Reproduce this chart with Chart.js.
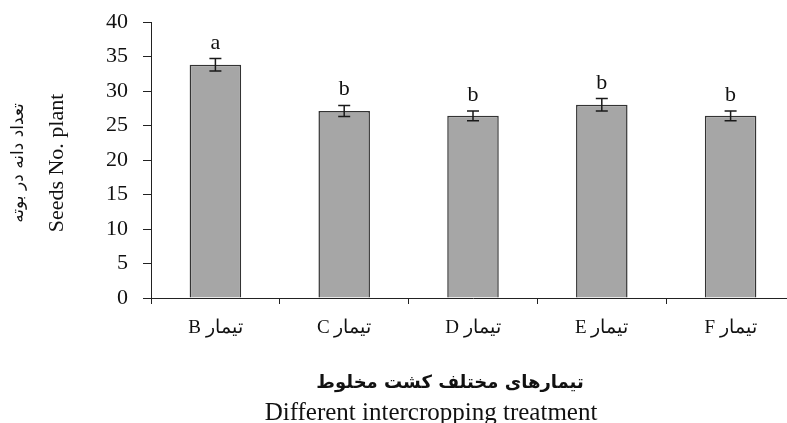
<!DOCTYPE html>
<html>
<head>
<meta charset="utf-8">
<script src="https://cdn.jsdelivr.net/npm/chart.js@4.4.1/dist/chart.umd.min.js"></script>
<style>
  html, body { margin: 0; padding: 0; background: #fff; overflow: hidden; }
  #wrap { position: relative; width: 800px; height: 423px; }
</style>
</head>
<body>
<div id="wrap"><canvas id="seedsChart"></canvas></div>
<script>
// datos
var treatments = ['B تیمار', 'C تیمار', 'D تیمار', 'E تیمار', 'F تیمار'];
var seedsPerPlant = [33.8, 27.1, 26.4, 28.0, 26.4];
var errorValues = [0.9, 0.8, 0.7, 0.9, 0.7];
var groupLetters = ['a', 'b', 'b', 'b', 'b'];
var yTicks = [0, 5, 10, 15, 20, 25, 30, 35, 40];

var serif = "'Liberation Serif', 'DejaVu Serif', serif";
var persian = "'DejaVu Sans', 'Noto Sans', sans-serif";

// barras de error + letras de significancia
var errorBarsPlugin = {
    id: 'errorBars',
    afterDatasetsDraw: function(chart) {
        var ctx = chart.ctx;
        var y = chart.scales.y;
        var meta = chart.getDatasetMeta(0);
        ctx.save();
        ctx.strokeStyle = '#1a1a1a';
        ctx.lineWidth = 1.5;
        meta.data.forEach(function(bar, i) {
            var top = y.getPixelForValue(seedsPerPlant[i] + errorValues[i]);
            var bottom = y.getPixelForValue(seedsPerPlant[i] - errorValues[i]);
            ctx.beginPath();
            ctx.moveTo(bar.x, top);
            ctx.lineTo(bar.x, bottom);
            ctx.moveTo(bar.x - 6, top);
            ctx.lineTo(bar.x + 6, top);
            ctx.moveTo(bar.x - 6, bottom);
            ctx.lineTo(bar.x + 6, bottom);
            ctx.stroke();
            ctx.fillStyle = '#111';
            ctx.font = '22px ' + serif;
            ctx.textAlign = 'center';
            ctx.textBaseline = 'alphabetic';
            ctx.fillText(groupLetters[i], bar.x, top - 10);
        });
        ctx.restore();
    }
};

// titulos de los ejes (dos lineas, persa + ingles)
var axisTitlesPlugin = {
    id: 'axisTitles',
    afterDraw: function(chart) {
        var ctx = chart.ctx;
        var midY = 163;
        ctx.save();
        ctx.fillStyle = '#111';
        ctx.textAlign = 'center';
        ctx.textBaseline = 'middle';
        ctx.save();
        ctx.translate(19, midY);
        ctx.rotate(-Math.PI / 2);
        ctx.font = '17px ' + persian;
        ctx.fillText('تعداد دانه در بوته', 0, 0);
        ctx.restore();
        ctx.save();
        ctx.translate(57, midY);
        ctx.rotate(-Math.PI / 2);
        ctx.font = '22px ' + serif;
        ctx.fillText('Seeds No. plant', 0, 0);
        ctx.restore();
        ctx.font = 'bold 18px ' + persian;
        ctx.fillText('تیمارهای مختلف کشت مخلوط', 450, 383);
        ctx.font = '25px ' + serif;
        ctx.fillText('Different intercropping treatment', 431, 413);
        ctx.restore();
    }
};

var ctx = document.getElementById('seedsChart').getContext('2d');
new Chart(ctx, {
    type: 'bar',
    data: {
        labels: treatments,
        datasets: [{
            data: seedsPerPlant,
            backgroundColor: '#a6a6a6',
            borderColor: '#333333',
            borderWidth: 1.5,
            barPercentage: 0.4,
            categoryPercentage: 1.0
        }]
    },
    options: {
        responsive: true,
        maintainAspectRatio: false,
        animation: false,
        layout: { padding: { top: 22, left: 0, right: 5, bottom: 0 } },
        plugins: {
            legend: { display: false },
            tooltip: { enabled: false }
        },
        scales: {
            x: {
                offset: true,
                afterFit: function(scale) {
                    scale.height = 125;
                    scale.paddingLeft = 0;
                    scale.paddingRight = 0;
                },
                border: { color: '#222', width: 1 },
                grid: {
                    offset: true,
                    drawOnChartArea: false,
                    drawTicks: true,
                    tickLength: 6,
                    color: '#222'
                },
                ticks: {
                    color: '#111',
                    padding: 13,
                    font: { family: serif, size: 19 }
                }
            },
            y: {
                min: 0,
                max: 40,
                afterFit: function(scale) {
                    scale.width = 151;
                    scale.paddingTop = 0;
                    scale.paddingBottom = 0;
                },
                afterBuildTicks: function(scale) {
                    scale.ticks = yTicks.map(function(v) { return { value: v }; });
                },
                border: { color: '#222', width: 1 },
                grid: {
                    drawOnChartArea: false,
                    drawTicks: true,
                    tickLength: 8,
                    color: '#222'
                },
                ticks: {
                    color: '#111',
                    padding: 15,
                    font: { family: serif, size: 22 }
                }
            }
        }
    },
    plugins: [errorBarsPlugin, axisTitlesPlugin]
});
</script>
</body>
</html>
